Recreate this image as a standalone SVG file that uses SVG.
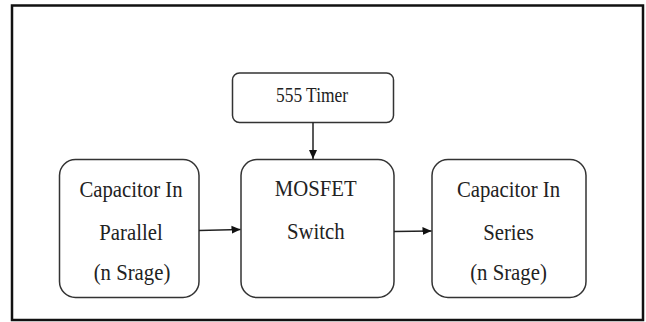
<svg xmlns="http://www.w3.org/2000/svg" width="646" height="322" viewBox="0 0 646 322">
<style>
.box{fill:#fff;stroke:#333;stroke-width:1.5}
text{font-family:'Liberation Serif','DejaVu Serif',serif;fill:#222;text-anchor:middle}
.t{font-size:24px}
.ts{font-size:20px}
.edge{stroke:#222;stroke-width:1.5;fill:none}
</style>
<defs>
<marker id="ah" markerWidth="10" markerHeight="10" refX="9" refY="5" orient="auto" markerUnits="userSpaceOnUse">
<path d="M0,1 L9,5 L0,9 Z" fill="#111"/>
</marker>
</defs>
<rect x="0" y="0" width="646" height="322" fill="#fff"/>
<rect x="12" y="5.5" width="631" height="314.5" fill="none" stroke="#111" stroke-width="2.5"/>
<g id="timer">
<rect class="box" x="232.5" y="73" width="161" height="49.5" rx="7"/>
<text class="ts" font-family="Liberation Serif" transform="translate(312,101.5) scale(0.87,1)">555 Timer</text>
</g>
<g id="parallel">
<rect class="box" x="59.5" y="159.5" width="139.5" height="138" rx="16"/>
<text class="t" transform="translate(131,197.3) scale(0.865,1)">Capacitor In</text>
<text class="t" transform="translate(131,240) scale(0.865,1)">Parallel</text>
<text class="t" transform="translate(132,280) scale(0.865,1)">(n Srage)</text>
</g>
<g id="mosfet">
<rect class="box" x="241" y="159.5" width="153" height="138" rx="16"/>
<text class="t" transform="translate(315.7,196) scale(0.865,1)">MOSFET</text>
<text class="t" transform="translate(315.7,239) scale(0.865,1)">Switch</text>
</g>
<g id="series">
<rect class="box" x="432" y="159.5" width="154" height="138" rx="16"/>
<text class="t" transform="translate(508.5,197.3) scale(0.865,1)">Capacitor In</text>
<text class="t" transform="translate(508.5,240) scale(0.865,1)">Series</text>
<text class="t" transform="translate(508.5,280) scale(0.865,1)">(n Srage)</text>
</g>
<g id="connectors">
<line class="edge" x1="313" y1="122.5" x2="313" y2="159" marker-end="url(#ah)"/>
<line class="edge" x1="199" y1="230.5" x2="240.5" y2="229.5" marker-end="url(#ah)"/>
<line class="edge" x1="394" y1="231.5" x2="431.5" y2="231" marker-end="url(#ah)"/>
</g>
</svg>
